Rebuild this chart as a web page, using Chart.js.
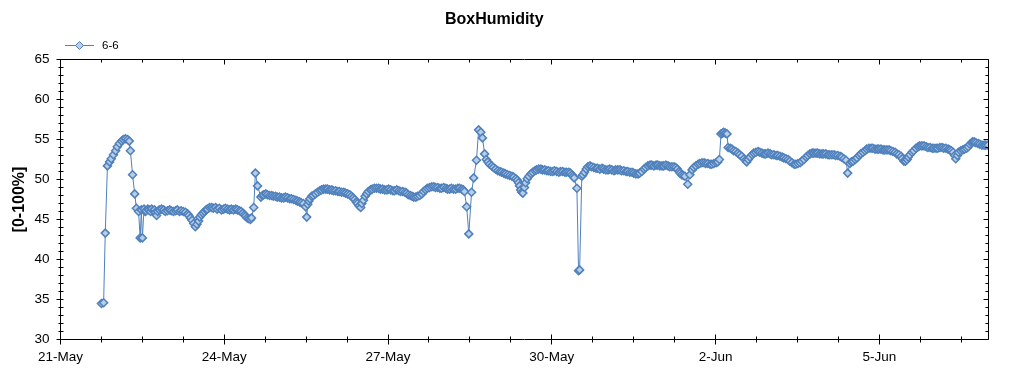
<!DOCTYPE html>
<html>
<head>
<meta charset="utf-8">
<script src="https://cdn.jsdelivr.net/npm/chart.js@4.4.1/dist/chart.umd.min.js"></script>
<style>
  html, body { margin: 0; padding: 0; background: #ffffff; }
  #wrap { width: 1024px; height: 375px; position: relative; }
</style>
</head>
<body>
<div id="wrap"><canvas id="c" width="1024" height="375"></canvas></div>
<script>
// ---- data (days since 21-May 00:00, humidity %) ----
const chartTitle = 'BoxHumidity';
const seriesName = '6-6';
const yAxisTitle = '[0-100%]';
const xTickLabels = ['21-May', '24-May', '27-May', '30-May', '2-Jun', '5-Jun'];
const yTickValues = [30, 35, 40, 45, 50, 55, 60, 65];

const days = [
  0.75, 0.79, 0.82, 0.86, 0.90, 0.93, 0.97, 1.01, 1.04, 1.08,
  1.12, 1.15, 1.19, 1.23, 1.26, 1.28, 1.32, 1.36, 1.39, 1.43,
  1.46, 1.48, 1.50, 1.53, 1.55, 1.57, 1.60, 1.62, 1.65, 1.67,
  1.70, 1.72, 1.74, 1.76, 1.78, 1.81, 1.85, 1.89, 1.92, 1.96,
  2.00, 2.03, 2.07, 2.11, 2.14, 2.18, 2.21, 2.25, 2.29, 2.33,
  2.35, 2.38, 2.41, 2.44, 2.47, 2.50, 2.53, 2.55, 2.58, 2.61,
  2.64, 2.67, 2.69, 2.73, 2.77, 2.80, 2.84, 2.87, 2.91, 2.95,
  2.99, 3.02, 3.06, 3.10, 3.13, 3.17, 3.21, 3.24, 3.28, 3.31,
  3.34, 3.37, 3.39, 3.42, 3.45, 3.48, 3.50, 3.54, 3.57, 3.61,
  3.67, 3.70, 3.72, 3.76, 3.79, 3.83, 3.87, 3.90, 3.94, 3.97,
  4.01, 4.05, 4.09, 4.12, 4.16, 4.20, 4.23, 4.27, 4.31, 4.34,
  4.38, 4.41, 4.45, 4.49, 4.51, 4.53, 4.55, 4.57, 4.60, 4.63,
  4.67, 4.71, 4.75, 4.78, 4.82, 4.86, 4.89, 4.93, 4.97, 5.00,
  5.04, 5.08, 5.11, 5.15, 5.19, 5.22, 5.26, 5.30, 5.33, 5.36,
  5.39, 5.42, 5.44, 5.47, 5.50, 5.52, 5.55, 5.58, 5.61, 5.64,
  5.68, 5.71, 5.75, 5.79, 5.83, 5.86, 5.90, 5.94, 5.98, 6.01,
  6.05, 6.09, 6.12, 6.16, 6.20, 6.23, 6.27, 6.31, 6.34, 6.37,
  6.41, 6.44, 6.47, 6.51, 6.54, 6.58, 6.62, 6.65, 6.69, 6.72,
  6.76, 6.80, 6.84, 6.87, 6.91, 6.95, 6.98, 7.02, 7.06, 7.09,
  7.13, 7.16, 7.20, 7.24, 7.28, 7.31, 7.35, 7.38, 7.40, 7.44,
  7.48, 7.53, 7.57, 7.62, 7.66, 7.70, 7.73, 7.77, 7.80, 7.83,
  7.86, 7.90, 7.93, 7.97, 8.01, 8.05, 8.08, 8.12, 8.15, 8.19,
  8.23, 8.27, 8.30, 8.34, 8.37, 8.39, 8.41, 8.43, 8.45, 8.47,
  8.50, 8.52, 8.55, 8.58, 8.62, 8.65, 8.69, 8.72, 8.76, 8.80,
  8.83, 8.87, 8.91, 8.94, 8.98, 9.02, 9.05, 9.09, 9.13, 9.16,
  9.20, 9.24, 9.27, 9.31, 9.34, 9.37, 9.39, 9.41, 9.46, 9.49,
  9.51, 9.55, 9.57, 9.60, 9.63, 9.66, 9.70, 9.73, 9.77, 9.81,
  9.84, 9.88, 9.92, 9.95, 9.99, 10.03, 10.06, 10.10, 10.14, 10.17,
  10.21, 10.25, 10.28, 10.32, 10.36, 10.39, 10.43, 10.47, 10.50, 10.54,
  10.58, 10.61, 10.65, 10.69, 10.72, 10.76, 10.80, 10.83, 10.87, 10.91,
  10.94, 10.98, 11.02, 11.05, 11.09, 11.13, 11.16, 11.20, 11.24, 11.27,
  11.30, 11.33, 11.35, 11.38, 11.41, 11.44, 11.49, 11.53, 11.57, 11.60,
  11.64, 11.68, 11.71, 11.75, 11.79, 11.82, 11.86, 11.90, 11.93, 11.97,
  12.01, 12.04, 12.07, 12.10, 12.13, 12.15, 12.18, 12.21, 12.23, 12.27,
  12.30, 12.33, 12.37, 12.41, 12.44, 12.48, 12.52, 12.55, 12.57, 12.60,
  12.63, 12.67, 12.70, 12.74, 12.78, 12.81, 12.85, 12.89, 12.92, 12.96,
  13.00, 13.03, 13.07, 13.11, 13.14, 13.18, 13.22, 13.25, 13.29, 13.33,
  13.36, 13.40, 13.44, 13.47, 13.51, 13.55, 13.58, 13.62, 13.66, 13.69,
  13.73, 13.77, 13.80, 13.84, 13.87, 13.91, 13.95, 13.98, 14.02, 14.06,
  14.09, 14.13, 14.17, 14.20, 14.24, 14.28, 14.31, 14.35, 14.39, 14.42,
  14.46, 14.49, 14.52, 14.56, 14.59, 14.63, 14.66, 14.70, 14.74, 14.77,
  14.81, 14.85, 14.88, 14.92, 14.96, 14.99, 15.03, 15.07, 15.10, 15.14,
  15.18, 15.21, 15.25, 15.29, 15.32, 15.36, 15.40, 15.42, 15.45, 15.48,
  15.51, 15.53, 15.56, 15.60, 15.63, 15.67, 15.71, 15.74, 15.78, 15.82,
  15.86, 15.89, 15.93, 15.97, 16.00, 16.04, 16.07, 16.11, 16.15, 16.18,
  16.22, 16.26, 16.29, 16.32, 16.35, 16.38, 16.40, 16.43, 16.45, 16.49,
  16.53, 16.56, 16.60, 16.63, 16.66, 16.69, 16.71, 16.74, 16.77, 16.81,
  16.84, 16.88, 16.92, 16.95, 16.99
];
const humidity = [
  34.5, 34.6, 43.3, 51.7, 52.2, 52.6, 53.1, 53.6, 54.1, 54.5,
  54.8, 55.0, 55.1, 55.0, 54.8, 53.6, 50.6, 48.2, 46.4, 46.0,
  42.7, 46.2, 42.7, 46.3, 46.0, 46.1, 46.3, 46.2, 46.0, 46.3,
  46.1, 46.2, 45.9, 45.5, 46.0, 46.2, 46.3, 46.2, 46.0, 46.1,
  46.2, 46.1, 46.0, 46.1, 46.2, 46.0, 46.1, 46.0, 45.9, 45.7,
  45.5, 45.2, 44.9, 44.5, 44.1, 44.4, 44.8, 45.3, 45.6, 45.8,
  46.0, 46.2, 46.3, 46.5, 46.5, 46.4, 46.5, 46.3, 46.4, 46.2,
  46.3, 46.4, 46.3, 46.2, 46.3, 46.2, 46.3, 46.2, 46.1, 46.0,
  45.8, 45.6, 45.4, 45.2, 45.1, 45.0, 45.2, 46.5, 50.8, 49.2,
  47.8, 48.0, 48.1, 48.2, 48.1, 48.0, 48.0, 47.9, 47.9, 47.8,
  47.8, 47.7, 47.7, 47.8, 47.7, 47.6, 47.6, 47.5, 47.4, 47.3,
  47.2, 47.1, 47.0, 46.6, 45.3, 46.9, 47.3, 47.6, 47.9, 48.0,
  48.2, 48.4, 48.6, 48.7, 48.8, 48.8, 48.8, 48.7, 48.7, 48.6,
  48.6, 48.5, 48.5, 48.4, 48.4, 48.3, 48.2, 48.1, 47.9, 47.7,
  47.5, 47.2, 47.0, 46.7, 46.5, 47.0, 47.4, 47.9, 48.2, 48.5,
  48.7, 48.8, 48.9, 48.9, 48.9, 48.8, 48.8, 48.7, 48.7, 48.8,
  48.7, 48.6, 48.6, 48.7, 48.6, 48.5, 48.5, 48.4, 48.3, 48.1,
  48.0, 47.9, 47.8, 47.8, 47.9, 48.0, 48.2, 48.5, 48.7, 48.9,
  49.0, 49.1, 49.1, 49.0, 49.0, 48.9, 48.9, 49.0, 48.9, 48.8,
  48.8, 48.9, 48.8, 48.8, 48.9, 48.9, 48.8, 48.7, 48.5, 46.6,
  43.2, 48.4, 50.2, 52.4, 56.2, 55.9, 55.2, 53.2, 52.5, 52.2,
  51.9, 51.7, 51.5, 51.3, 51.1, 51.0, 50.9, 50.8, 50.7, 50.6,
  50.5, 50.4, 50.3, 50.1, 49.9, 49.6, 49.2, 48.7, 48.4, 48.3,
  49.0, 49.6, 50.1, 50.4, 50.7, 50.9, 51.1, 51.2, 51.3, 51.3,
  51.2, 51.2, 51.1, 51.1, 51.0, 51.0, 51.1, 51.0, 50.9, 51.0,
  51.0, 50.9, 50.9, 50.9, 50.8, 50.6, 50.4, 50.2, 48.9, 38.6,
  38.7, 50.4, 50.6, 50.9, 51.3, 51.6, 51.7, 51.6, 51.5, 51.4,
  51.4, 51.3, 51.4, 51.3, 51.2, 51.2, 51.3, 51.2, 51.1, 51.2,
  51.2, 51.2, 51.1, 51.1, 51.0, 51.0, 50.9, 50.9, 50.8, 50.7,
  50.7, 50.8, 51.0, 51.3, 51.5, 51.7, 51.8, 51.8, 51.7, 51.8,
  51.8, 51.7, 51.7, 51.7, 51.8, 51.7, 51.6, 51.6, 51.6, 51.5,
  51.3, 51.0, 50.8, 50.6, 50.5, 50.4, 49.4, 50.6, 51.2, 51.5,
  51.7, 51.9, 52.0, 52.1, 52.1, 52.0, 52.0, 51.9, 51.9, 52.0,
  52.1, 52.2, 52.5, 55.7, 55.8, 55.9, 55.8, 55.7, 54.0, 53.9,
  53.8, 53.6, 53.5, 53.3, 53.1, 52.9, 52.6, 52.4, 52.2, 52.5,
  52.8, 53.1, 53.3, 53.4, 53.5, 53.4, 53.3, 53.2, 53.2, 53.3,
  53.2, 53.1, 53.1, 53.0, 53.0, 52.9, 52.8, 52.7, 52.6, 52.5,
  52.3, 52.1, 51.9, 51.9, 52.0, 52.1, 52.3, 52.5, 52.8, 53.0,
  53.2, 53.3, 53.3, 53.3, 53.3, 53.2, 53.2, 53.2, 53.2, 53.1,
  53.1, 53.1, 53.1, 53.0, 53.0, 52.9, 52.8, 52.6, 52.4, 50.8,
  52.0, 52.2, 52.3, 52.5, 52.7, 53.0, 53.2, 53.4, 53.6, 53.8,
  53.9, 53.9, 53.9, 53.8, 53.8, 53.8, 53.8, 53.7, 53.7, 53.7,
  53.7, 53.6, 53.5, 53.4, 53.2, 53.1, 52.9, 52.6, 52.3, 52.3,
  52.5, 52.8, 53.1, 53.4, 53.6, 53.9, 54.1, 54.2, 54.2, 54.2,
  54.1, 54.0, 54.0, 53.9, 53.9, 53.9, 53.9, 54.0, 54.0, 53.9,
  53.9, 53.8, 53.7, 53.6, 53.4, 53.0, 52.6, 53.0, 53.4, 53.6,
  53.7, 53.8, 53.9, 54.1, 54.4, 54.6, 54.7, 54.7, 54.6, 54.5,
  54.4, 54.3, 54.3, 54.3, 54.3
];

const nPts = Math.min(days.length, humidity.length);
const points = [];
for (let i = 0; i < nPts; i++) points.push({ x: days[i], y: humidity[i] });

const LINE = '#4F81BD';
const FILL = '#B9CDE5';
const FONT = '"Liberation Sans", Arial, sans-serif';

const frame = {
  id: 'frame',
  afterDatasetsDraw(chart) {
    const ctx = chart.ctx;
    const a = chart.chartArea;
    const xs = chart.scales.x, ys = chart.scales.y;
    const al = v => Math.round(v - 0.5) + 0.5;
    ctx.save();
    ctx.strokeStyle = '#000';
    ctx.lineWidth = 1;
    ctx.beginPath();
    ctx.rect(al(a.left), al(a.top), al(a.right) - al(a.left), al(a.bottom) - al(a.top));
    for (let v = 0; v <= 17.0001; v += 0.75) {
      const px = al(xs.getPixelForValue(v));
      const major = Math.abs(v / 3 - Math.round(v / 3)) < 1e-6;
      if (major) {
        ctx.moveTo(px, al(a.bottom) - 5); ctx.lineTo(px, al(a.bottom) + 5);
        ctx.moveTo(px, al(a.top)); ctx.lineTo(px, al(a.top) + 5);
      } else {
        ctx.moveTo(px, al(a.bottom) - 3); ctx.lineTo(px, al(a.bottom) + 3);
        ctx.moveTo(px, al(a.top)); ctx.lineTo(px, al(a.top) + 3);
      }
    }
    for (let v = 30; v <= 65; v += 1) {
      const py = al(ys.getPixelForValue(v));
      const major = v % 5 === 0;
      if (major) {
        ctx.moveTo(al(a.left) - 4, py); ctx.lineTo(al(a.left) + 3, py);
        ctx.moveTo(al(a.right), py); ctx.lineTo(al(a.right) - 5, py);
      } else {
        ctx.moveTo(al(a.left) - 2, py); ctx.lineTo(al(a.left) + 3, py);
        ctx.moveTo(al(a.right), py); ctx.lineTo(al(a.right) - 3, py);
      }
    }
    ctx.stroke();
    ctx.restore();

    // legend
    ctx.save();
    const ly = 45.5;
    ctx.strokeStyle = LINE;
    ctx.lineWidth = 1;
    ctx.beginPath();
    ctx.moveTo(65, ly); ctx.lineTo(94, ly);
    ctx.stroke();
    ctx.beginPath();
    ctx.moveTo(79.5, ly - 4); ctx.lineTo(83.5, ly); ctx.lineTo(79.5, ly + 4); ctx.lineTo(75.5, ly); ctx.closePath();
    ctx.fillStyle = FILL; ctx.fill(); ctx.stroke();
    ctx.fillStyle = '#000';
    ctx.font = '11.5px ' + FONT;
    ctx.textBaseline = 'middle';
    ctx.textAlign = 'left';
    ctx.fillText(seriesName, 102, ly);
    ctx.restore();
  }
};

new Chart(document.getElementById('c'), {
  type: 'line',
  data: {
    datasets: [{
      label: seriesName,
      data: points,
      borderColor: LINE,
      borderWidth: 1,
      pointStyle: 'rectRot',
      pointRadius: 4,
      pointBorderWidth: 1.5,
      pointBackgroundColor: FILL,
      pointBorderColor: LINE,
      tension: 0,
      fill: false
    }]
  },
  options: {
    responsive: false,
    animation: false,
    layout: { padding: { left: 0, right: 35.5, top: 0, bottom: 0 } },
    plugins: {
      legend: { display: false },
      tooltip: { enabled: false },
      title: {
        display: true,
        text: chartTitle,
        color: '#000',
        font: { family: FONT, size: 16, weight: 'bold' },
        padding: { top: 10, bottom: 30.3 }
      }
    },
    scales: {
      x: {
        type: 'linear',
        min: 0, max: 17,
        grid: { display: false, drawTicks: false },
        border: { display: false },
        afterFit(s) { s.height = 35.5; },
        ticks: {
          stepSize: 3,
          autoSkip: false,
          maxRotation: 0,
          padding: 10,
          color: '#000',
          font: { family: FONT, size: 13.5 },
          callback: (v) => {
            const k = v / 3;
            return Number.isInteger(k) && xTickLabels[k] !== undefined ? xTickLabels[k] : '';
          }
        }
      },
      y: {
        type: 'linear',
        min: 30, max: 65,
        grid: { display: false, drawTicks: false },
        border: { display: false },
        afterFit(s) { s.width = 60.5; },
        afterBuildTicks(s) { s.ticks = yTickValues.map(v => ({ value: v })); },
        ticks: {
          padding: 11,
          color: '#000',
          font: { family: FONT, size: 13.5 },
          callback: (v) => String(v)
        },
        title: {
          display: true,
          text: yAxisTitle,
          color: '#000',
          font: { family: FONT, size: 16, weight: 'bold' },
          padding: { top: 10, bottom: 0 }
        }
      }
    }
  },
  plugins: [frame]
});
</script>
</body>
</html>
